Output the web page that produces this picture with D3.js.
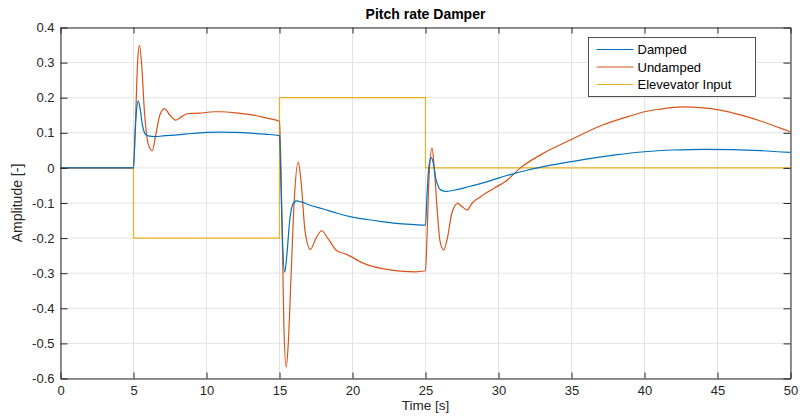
<!DOCTYPE html>
<html><head><meta charset="utf-8">
<script src="https://cdn.jsdelivr.net/npm/d3@7"></script>
<style>body{margin:0;background:#fff}svg{display:block;font-family:"Liberation Sans",Arial,Helvetica,sans-serif}</style>
</head><body><svg id="c" width="800" height="416"></svg>
<script>
const xTicks = [0,5,10,15,20,25,30,35,40,45,50];
const yTicks = [0.4,0.3,0.2,0.1,0,-0.1,-0.2,-0.3,-0.4,-0.5,-0.6];
const yTickLabels = ["0.4","0.3","0.2","0.1","0","-0.1","-0.2","-0.3","-0.4","-0.5","-0.6"];
const seriesNames = ["Damped","Undamped","Elevevator Input"];

const dampedT = [0,5,5.1,5.2,5.32,5.45,5.6,5.8,6.0,6.5,7,8,9,10,11,12,13,14,15,
  15.1,15.2,15.36,15.5,15.7,15.9,16.16,16.5,17,18,19,20,21,22,23,24,25,
  25.1,25.25,25.4,25.55,25.7,25.9,26.1,26.4,27,28,29,30,31,32,33,34,35,36,38,40,42,44,46,48,50];
const dampedV = [0,0,0.09,0.16,0.191,0.17,0.125,0.097,0.091,0.089,0.091,0.094,0.098,0.101,0.102,0.101,0.099,0.096,0.092,
  -0.05,-0.2,-0.297,-0.25,-0.15,-0.105,-0.094,-0.097,-0.105,-0.117,-0.13,-0.14,-0.147,-0.153,-0.158,-0.161,-0.163,
  -0.08,0.01,0.029,0.01,-0.03,-0.055,-0.064,-0.067,-0.063,-0.053,-0.042,-0.029,-0.017,-0.006,0.003,0.011,0.018,0.025,0.037,0.046,0.051,0.053,0.052,0.049,0.044];

const undampedT = [0,5,5.15,5.28,5.41,5.55,5.75,6.0,6.28,6.55,6.8,7.12,7.5,7.88,8.3,8.77,9.5,10.5,11,12,13,14,15,
  15.15,15.3,15.46,15.6,15.8,16.0,16.28,16.5,16.75,17.12,17.5,17.88,18.3,18.95,19.5,20.0,20.5,21.5,22.5,23.5,24.3,25,
  25.1,25.25,25.45,25.6,25.8,26.0,26.25,26.5,26.8,27.2,27.5,27.85,28.2,28.77,29.7,30.5,31.5,33,35,37,39,40,41,42.6,44,45,46,47,48,49,50];
const undampedV = [0,0,0.15,0.3,0.349,0.3,0.16,0.07,0.049,0.1,0.15,0.169,0.15,0.136,0.146,0.155,0.156,0.16,0.16,0.157,0.152,0.143,0.133,
  -0.1,-0.45,-0.568,-0.5,-0.3,-0.1,0.017,-0.05,-0.18,-0.232,-0.2,-0.179,-0.2,-0.237,-0.245,-0.255,-0.267,-0.282,-0.29,-0.295,-0.296,-0.293,
  -0.2,-0.02,0.057,0.0,-0.12,-0.21,-0.234,-0.2,-0.13,-0.101,-0.11,-0.12,-0.1,-0.082,-0.058,-0.038,0,0.04,0.081,0.12,0.148,0.16,0.167,0.174,0.171,0.166,0.157,0.146,0.133,0.118,0.103];

const inputT = [0,5,15,25,50];
const inputV = [0,-0.2,0.2,0,0];

const colors = ["#0072BD","#D95319","#EDB120"];

const svg = d3.select("#c");
const L=60.5, R=790.5, T=27.5, B=378.5;
const x = d3.scaleLinear().domain([0,50]).range([L,R]);
const y = d3.scaleLinear().domain([-0.6,0.4]).range([B,T]);

// grid
svg.append("g").selectAll("line").data(xTicks).join("line")
  .attr("x1",d=>x(d)).attr("x2",d=>x(d)).attr("y1",T).attr("y2",B)
  .attr("stroke","#e3e3e3").attr("stroke-width",1);
svg.append("g").selectAll("line").data(yTicks).join("line")
  .attr("x1",L).attr("x2",R).attr("y1",d=>y(d)).attr("y2",d=>y(d))
  .attr("stroke","#e3e3e3").attr("stroke-width",1);

// lines
const mk = (ts,vs)=>ts.map((t,i)=>[t,vs[i]]);
const line = d3.line().x(d=>x(d[0])).y(d=>y(d[1])).curve(d3.curveMonotoneX);
const stepLine = d3.line().x(d=>x(d[0])).y(d=>y(d[1])).curve(d3.curveStepAfter);
svg.append("clipPath").attr("id","cp").append("rect").attr("x",L).attr("y",T).attr("width",R-L).attr("height",B-T);
const plot = svg.append("g").attr("clip-path","url(#cp)");
plot.append("path").attr("d",stepLine(mk(inputT,inputV))).attr("fill","none").attr("stroke",colors[2]).attr("stroke-width",1.2);
plot.append("path").attr("d",line(mk(undampedT,undampedV))).attr("fill","none").attr("stroke",colors[1]).attr("stroke-width",1.2);
plot.append("path").attr("d",line(mk(dampedT,dampedV))).attr("fill","none").attr("stroke",colors[0]).attr("stroke-width",1.2);

// axes
const ac = "#262626";
const xAxB = d3.axisBottom(x).tickValues(xTicks).tickSizeInner(-6).tickSizeOuter(0).tickPadding(7);
const xAxT = d3.axisTop(x).tickValues(xTicks).tickSizeInner(-6).tickSizeOuter(0).tickFormat("");
const yAxL = d3.axisLeft(y).tickValues(yTicks).tickSizeInner(-7).tickSizeOuter(0).tickPadding(6).tickFormat((d,i)=>yTickLabels[i]);
const yAxR = d3.axisRight(y).tickValues(yTicks).tickSizeInner(-7).tickSizeOuter(0).tickFormat("");
function style(g){g.selectAll("path,line").attr("stroke",ac);g.selectAll("text").attr("fill",ac).attr("font-size",13).attr("font-family","Liberation Sans, Arial, sans-serif");}
svg.append("g").attr("transform",`translate(0,${B})`).call(xAxB).call(style);
svg.append("g").attr("transform",`translate(0,${T})`).call(xAxT).call(style);
svg.append("g").attr("transform",`translate(${L},0)`).call(yAxL).call(style);
svg.append("g").attr("transform",`translate(${R},0)`).call(yAxR).call(style);
svg.selectAll(".domain").attr("stroke",ac).attr("stroke-width",1);

// titles
svg.append("text").attr("x",(L+R)/2).attr("y",19).attr("text-anchor","middle").attr("font-weight","bold").attr("font-size",14).attr("fill","#000").text("Pitch rate Damper");
svg.append("text").attr("x",(L+R)/2).attr("y",410).attr("text-anchor","middle").attr("font-size",13.5).attr("fill",ac).text("Time [s]");
svg.append("text").attr("transform",`translate(22,${(T+B)/2}) rotate(-90)`).attr("text-anchor","middle").attr("font-size",14).attr("fill",ac).text("Amplitude [-]");

// legend
const lg = svg.append("g").attr("transform","translate(588.5,37.5)");
lg.append("rect").attr("width",167).attr("height",59).attr("fill","#fff").attr("stroke",ac).attr("stroke-width",0.8);
seriesNames.forEach((n,i)=>{
  const yy = 12+i*17.5;
  lg.append("line").attr("x1",8).attr("x2",45).attr("y1",yy).attr("y2",yy).attr("stroke",colors[i]).attr("stroke-width",1.2);
  lg.append("text").attr("x",49).attr("y",yy+4.5).attr("font-size",13).attr("fill","#000").text(n);
});
</script></body></html>
